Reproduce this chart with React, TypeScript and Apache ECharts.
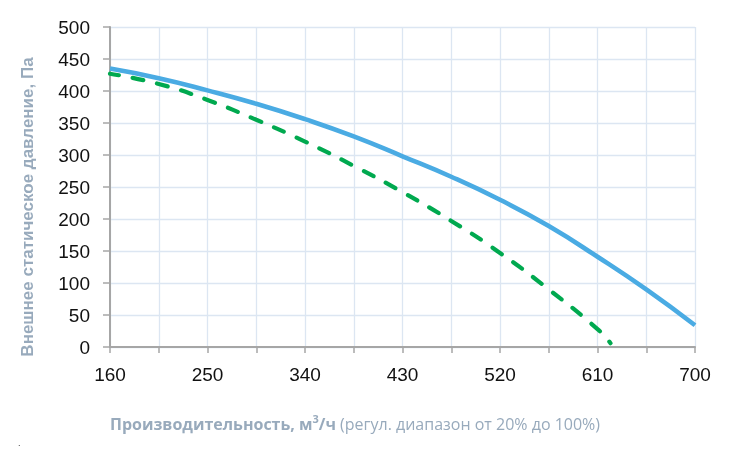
import React, { useEffect, useRef } from "react";
import * as echarts from "echarts";

const blueX = [160, 205, 250, 295, 340, 385, 430, 475, 520, 565, 610, 655, 700];
const blueY = [435, 420, 401, 380, 356, 329, 298, 266, 230, 189, 141, 90, 34];
const greenX = [160, 205, 250, 295, 340, 385, 430, 475, 520, 565, 610, 622];
const greenY = [427, 411, 386, 355, 321, 283, 242, 197, 147, 90, 28, 6];
const xLabeled = [160, 250, 340, 430, 520, 610, 700];
const yTitle = "Внешнее статическое давление, Па";
const xTitleBold = "Производительность, м";
const xTitleSup = "3";
const xTitleUnit = "/ч";
const xTitleNote = " (регул. диапазон от 20% до 100%)";

export default function App() {
  const ref = useRef<HTMLDivElement>(null);
  useEffect(() => {
    if (!ref.current) return;
    const chart = echarts.init(ref.current, null, { renderer: "svg" });
    const titleColor = "#98aabc";
    chart.setOption({
      animation: false,
      grid: { left: 110, right: 34, top: 27, bottom: 117, containLabel: false },
      xAxis: {
        type: "value",
        min: 160,
        max: 700,
        interval: 45,
        axisLine: { show: true, lineStyle: { color: "#a6a6a6", width: 2 } },
        axisTick: { show: true, length: 6, lineStyle: { color: "#a6a6a6", width: 1.5 } },
        splitLine: { show: true, lineStyle: { color: "#dce6f2", width: 1.3 } },
        axisLabel: {
          margin: 18,
          color: "#111",
          fontSize: 19,
          fontFamily: "'Liberation Sans', Arial, sans-serif",
          formatter: (v: number) => (xLabeled.includes(v) ? String(v) : ""),
        },
      },
      yAxis: {
        type: "value",
        min: 0,
        max: 500,
        interval: 50,
        axisLine: { show: true, lineStyle: { color: "#a6a6a6", width: 2 } },
        axisTick: { show: true, length: 7, lineStyle: { color: "#a6a6a6", width: 1.5 } },
        splitLine: { show: true, lineStyle: { color: "#dce6f2", width: 1.3 } },
        axisLabel: {
          margin: 20,
          color: "#111",
          fontSize: 19,
          fontFamily: "'Liberation Sans', Arial, sans-serif",
        },
      },
      series: [
        {
          type: "line",
          name: "max",
          data: blueX.map((x, i) => [x, blueY[i]]),
          smooth: true,
          showSymbol: false,
          lineStyle: { color: "#4aabe3", width: 4.6 },
          z: 3,
        },
        {
          type: "line",
          name: "reg",
          data: greenX.map((x, i) => [x, greenY[i]]),
          smooth: true,
          showSymbol: false,
          lineStyle: { color: "#00a94f", width: 4.2, type: [11, 14], dashOffset: 2, cap: "round" },
          z: 2,
        },
      ],
      graphic: [
        {
          type: "text",
          x: 27,
          y: 207,
          rotation: Math.PI / 2,
          style: {
            text: yTitle,
            fill: titleColor,
            font: "bold 17px 'Liberation Sans', Arial, sans-serif",
            textAlign: "center",
            textVerticalAlign: "middle",
          },
        },
        {
          type: "text",
          x: 355,
          y: 424,
          style: {
            text:
              "{b|" + xTitleBold + "}{s|" + xTitleSup + "}{b|" + xTitleUnit + "}{n|" + xTitleNote + "}",
            textAlign: "center",
            textVerticalAlign: "middle",
            rich: {
              b: { fill: titleColor, font: "bold 16px 'Open Sans', sans-serif" },
              s: { fill: titleColor, font: "bold 11px 'Open Sans', sans-serif", padding: [0, 0, 12, 0] },
              n: { fill: titleColor, font: "16px 'Open Sans', sans-serif" },
            },
          },
        },
        {
          type: "text",
          x: 18,
          y: 438,
          style: { text: ".", fill: "#333", font: "9px sans-serif" },
        },
      ],
    });
    return () => chart.dispose();
  }, []);
  return (
    <div
      ref={ref}
      style={{ position: "fixed", left: 0, top: 0, width: 729, height: 464 }}
    />
  );
}
